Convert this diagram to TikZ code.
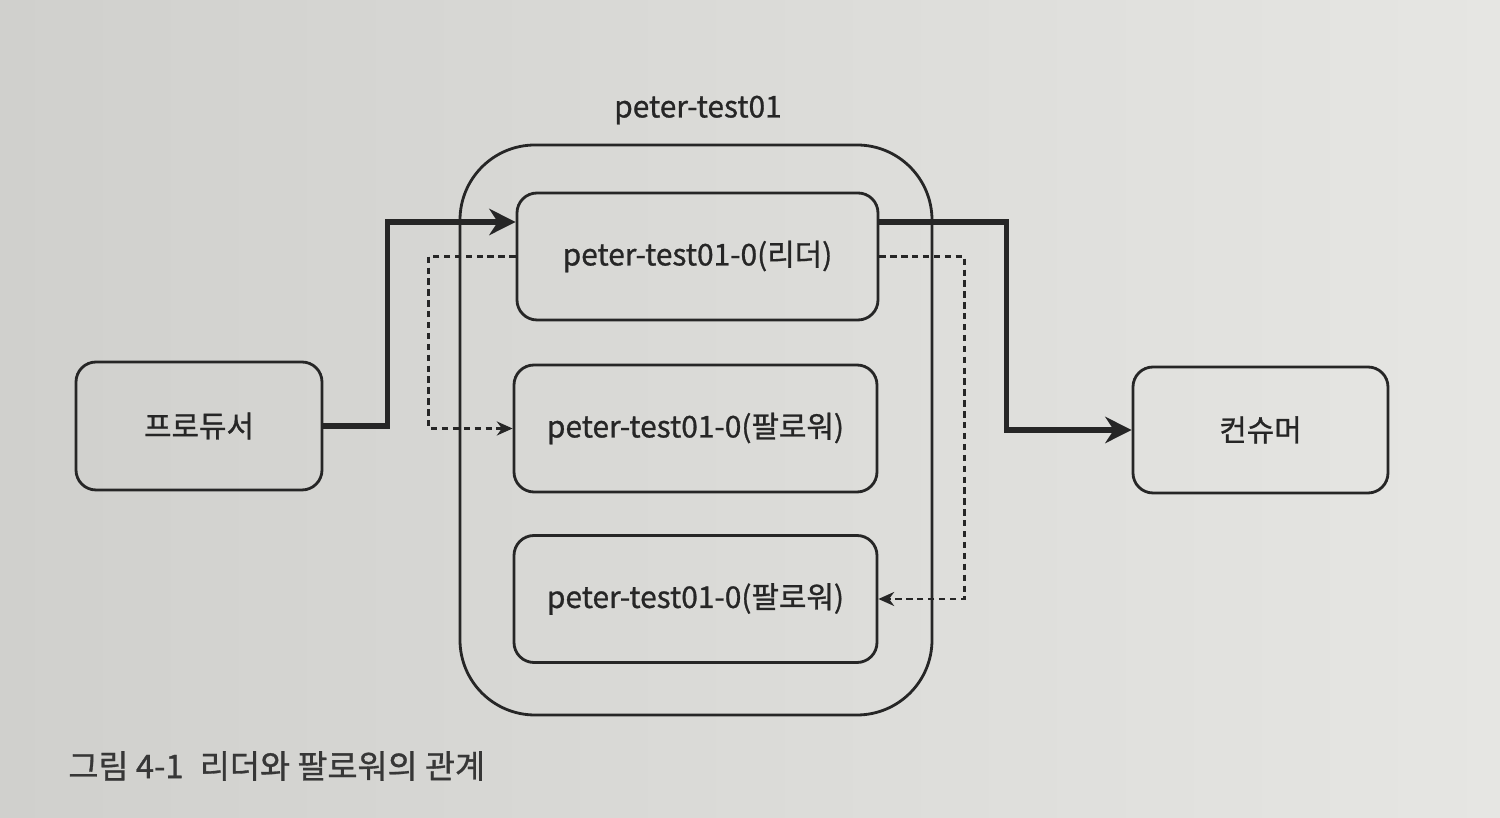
\documentclass[tikz,border=0pt]{standalone}
\usepackage{fontspec}
\setmainfont{Noto Sans CJK KR}[FakeBold=0.9]
\usetikzlibrary{arrows.meta}
\definecolor{paperL}{RGB}{208,208,205}
\definecolor{paperR}{RGB}{230,230,227}
\definecolor{ink}{RGB}{38,38,38}
\definecolor{capink}{RGB}{55,55,55}

\begin{document}
\begin{tikzpicture}[
  box/.style={rectangle, rounded corners=0.2cm, draw=ink, line width=0.8pt,
    minimum height=1.27cm, align=center, text=ink,
    font=\fontsize{8.5}{10}\selectfont},
  part/.style={box, minimum width=3.63cm},
  client/.style={box, minimum width=2.5cm},
  grp/.style={rectangle, rounded corners=0.75cm, draw=ink, line width=0.8pt,
    minimum width=4.72cm, minimum height=5.70cm},
  flow/.style={draw=ink, line width=1.5pt, -{Stealth[length=7.5pt,width=7.5pt]}},
  repl/.style={draw=ink, line width=0.65pt, dash pattern=on 1.8pt off 1.3pt,
    -{Stealth[length=4.5pt,width=4pt]}},
]

% Page
\shade[left color=paperL, right color=paperR] (0,0) rectangle (15,-8.18);
\useasboundingbox (0,0) rectangle (15,-8.18);

% Topic group
\node[grp] (group) at (6.96, -4.30) {};
\node[text=ink, font=\fontsize{8.5}{10}\selectfont] (grouptitle) at (6.98, -1.10) {peter-test01};

% Partitions
\node[part, minimum width=3.61cm] (leader) at (6.975, -2.565) {peter-test01-0(리더)};
\node[part] (followerA) at (6.955, -4.285) {peter-test01-0(팔로워)};
\node[part] (followerB) at (6.955, -5.99) {peter-test01-0(팔로워)};

% Clients
\node[client, minimum width=2.46cm, minimum height=1.28cm] (producer) at (1.99, -4.26) {프로듀서};
\node[client, minimum width=2.55cm, minimum height=1.26cm] (consumer) at (12.605, -4.30) {컨슈머};

% Produce / consume
\draw[flow] (producer.east) -- ++(0.64,0) |- ([yshift=3.45mm]leader.west);
\draw[flow] ([yshift=3.45mm]leader.east) -- ++(1.27,0) |- (consumer.west);

% Replication
\draw[repl] (leader.west) -- ++(-0.87,0) |- (followerA.west);
\draw[repl] (leader.east) -- ++(0.85,0) |- (followerB.east);

% Caption
\node[anchor=west, text=capink, font=\fontsize{9.3}{11}\selectfont] (caption) at (0.56, -7.66) {그림 4-1\hspace{0.5em}리더와 팔로워의 관계};

\end{tikzpicture}
\end{document}
